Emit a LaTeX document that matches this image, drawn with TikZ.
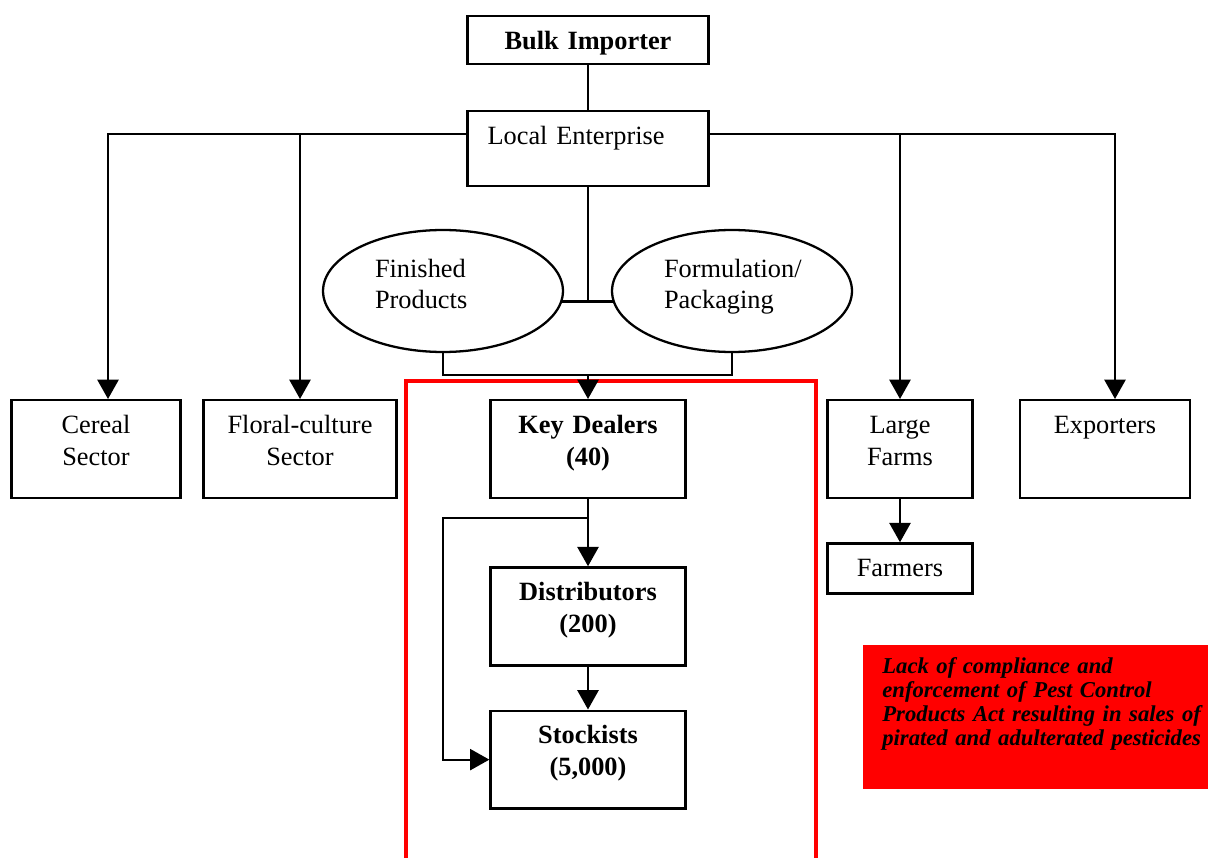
\documentclass[tikz,border=0pt]{standalone}
\usepackage{fontspec}
\setmainfont{Liberation Serif}
\usepackage{tikz}
\usetikzlibrary{arrows.meta,positioning,shapes.geometric}
\definecolor{alertRed}{HTML}{FF0000}

\begin{document}
\begin{tikzpicture}[x=0.02cm, y=-0.02cm,
  font=\fontsize{15}{18.2}\selectfont,
  box/.style={rectangle,draw=black,line width=1.3pt,fill=white,anchor=north,align=center,inner xsep=0pt,inner ysep=0pt,text height=0.66cm,text depth=1.30cm},
  bold/.style={font=\fontsize{15}{18.2}\selectfont\bfseries},
  oval/.style={ellipse,draw=black,line width=1.3pt,fill=white,minimum width=4.8cm,minimum height=2.44cm,inner sep=0pt,text width=2.72cm,align=left,text height=0.40cm,text depth=0.96cm},
  link/.style={draw=black,line width=1.3pt},
  arr/.style={link,-{Triangle[width=12pt,length=11pt]}},
  frame/.style={draw=alertRed,line width=2pt},
  note/.style={rectangle,fill=alertRed,anchor=north west,align=left,inner xsep=0.38cm,inner ysep=0pt,text width=6.5cm,text height=0.56cm,text depth=2.32cm,font=\fontsize{12.9}{13.66}\selectfont\bfseries\itshape}
]
\useasboundingbox (0,0) rectangle (1208,858);

% red frame round the dealer chain
\coordinate (fBL) at (406,858); \coordinate (fTL) at (406,381);
\coordinate (fTR) at (816,381); \coordinate (fBR) at (816,858);
\draw[frame] (fBL) -- (fTL) -- (fTR) -- (fBR);

\node[box,bold,text width=4.82cm,text depth=0.30cm] (bulk) at (588,15) {Bulk Importer};
\node[box,align=left,inner xsep=0.4cm,text width=4.02cm,text depth=0.84cm] (loc) at (588,110) {Local Enterprise};
\node[oval] (fp) at (443,291) {Finished\\Products};
\node[oval] (fm) at (732,291) {Formulation/\\Packaging};
\node[box,text width=3.38cm] (cer) at (96,399) {Cereal\\Sector};
\node[box,text width=3.86cm] (flo) at (300,399) {Floral-culture\\Sector};
\node[box,bold,text width=3.90cm] (key) at (588,399) {Key Dealers\\(40)};
\node[box,text width=2.90cm] (lar) at (900,399) {Large\\Farms};
\node[box,text width=3.40cm] (exp) at (1105,399) {Exporters};
\node[box,text width=2.90cm,text depth=0.34cm,below=0.86cm of lar] (farm) {Farmers};
\node[box,bold,text width=3.90cm,below=1.34cm of key] (dist) {Distributors\\(200)};
\node[box,bold,text width=3.90cm,below=0.86cm of dist] (sto) {Stockists\\(5,000)};
\node[note] (warn) at (863,645) {Lack of compliance and\\enforcement of Pest Control\\Products Act resulting in sales of\\pirated and adulterated pesticides};

% branches from the local enterprise
\coordinate (busL) at (108,134);  \coordinate (busR) at (1115,134);
\coordinate (merge) at (588,375); \coordinate (loopT) at (588,518);
\draw[link] (bulk) -- (loc);
\draw[arr] (loc.west |- busL) -- (busL) -- (busL |- cer.north);
\draw[arr] (flo |- busL) -- (flo);
\draw[arr] (loc.east |- busR) -- (busR) -- (busR |- exp.north);
\draw[arr] (lar |- busR) -- (lar);
\draw[link] (loc.south) -- (loc.south |- fp.-5.8);
\draw[link] (fp.-5.8) -- (fm.185.8);
\draw[link] (fp.south) |- (merge) -| (fm.south);
\draw[arr] (merge) -- (key);
\draw[arr] (key) -- (dist);
\draw[arr] (dist) -- (sto);
\draw[arr] (loopT) -- ++(-145,0) |- (sto);
\draw[arr] (lar) -- (farm);
\end{tikzpicture}
\end{document}
